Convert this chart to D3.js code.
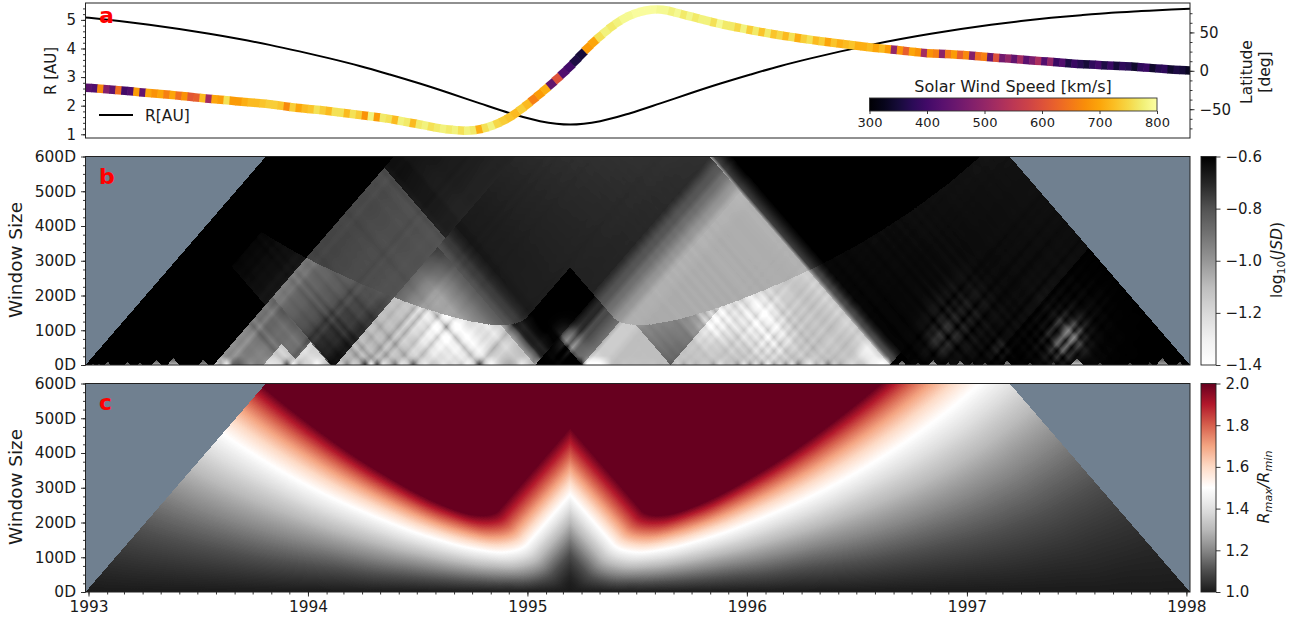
<!DOCTYPE html>
<html><head><meta charset="utf-8">
<script src="https://cdn.jsdelivr.net/npm/d3@7/dist/d3.min.js"></script>
<style>
html,body{margin:0;padding:0;background:#fff}
svg{display:block}
text{font-family:"DejaVu Sans",sans-serif;fill:#1a1a1a}
</style></head><body>
<svg id="chart" width="1293" height="622"></svg>
<script>
// ---------- data ----------
const yearTicks = [1993,1994,1995,1996,1997,1998];
const windowTicks = [0,100,200,300,400,500,600];
const rTicks = [1,2,3,4,5];
const latTicks = [-50,0,50];
const speedTicks = [300,400,500,600,700,800];
const jsdTicks = [-1.4,-1.2,-1.0,-0.8,-0.6];
const ratioTicks = [1.0,1.2,1.4,1.6,1.8,2.0];

// heliocentric distance, one value each 50 days, first value 44 days before the axis start
const rFirstDay = -44;
const rStepDays = 50;
const rValues = [5.165,5.071,4.958,4.826,4.679,4.515,4.332,4.126,3.898,3.654,3.39,3.09,2.773,2.434,2.08,1.737,1.457,1.34,1.457,1.737,2.08,2.434,2.773,3.09,3.39,3.654,3.898,4.126,4.332,4.515,4.679,4.826,4.958,5.071,5.165,5.248,5.307,5.361,5.40];

// latitude in degrees, one value each 50 days from the axis start
const latStepDays = 50;
const latValues = [-22,-25,-28.5,-32,-36,-39.5,-43,-48,-52,-57,-62,-69,-76,-77,-63,-34,1,41,70,80,72,62,54,47,41,36,31,27,23,21,18,15,12,9,7,5,2,0];

// solar wind speed in km/s, one value each 10 days from the axis start
const speedStepDays = 10;
const speedValues = [
430,420,670,480,440,640,400,420,690,440,700,680,700,660,700,640,680,610,620,720,
520,700,690,760,690,690,710,720,720,730,740,740,730,670,740,700,720,730,760,740,720,760,760,720,760,740,680,780,690,770,760,720,780,770,720,770,780,760,
770,780,770,780,760,780,770,710,760,780,750,740,730,720,740,720,660,690,710,
440,600,420,400,360,350,
690,700,760,780,770,
780,790,790,795,795,795,795,790,790,780,790,770,785,770,780,780,760,790,770,770,750,780,740,770,730,770,730,750,720,760,710,740,760,720,740,700,730,710,720,730,710,
710,720,700,720,
690,500,680,620,700,680,520,680,660,490,650,690,620,670,480,640,660,450,600,460,500,440,520,430,470,530,420,500,
390,420,360,390,370,350,380,400,360,390,350,380,370,340,380,390,340,370,380,340,360,350,330,360];

// log10(JSD) blocks in window-start / window-end days:
// start0,start1,end0,end1, value at the four corners, grain
const jsdBelowBlocks = [
 [1000,1500,1375,1837,-.62,-.6,-.67,-.63,.004],
 [101,213,385,620,-.605,-.66,-.62,-.66,.006],
 [213,416,409,781,-.92,-.62,-.85,-.95,.025],
 [213,409,213,409,-1.0,-1.0,-.85,-.85,.05],
 [296,357,296,357,-1.15,-1.15,-1.15,-1.15,.05],
 [341,407,341,407,-1.2,-1.2,-1.2,-1.2,.05],
 [416,748,416,748,-1.05,-1.08,-1.12,-1.12,.055],
 [416,748,748,770,-1.0,-1.0,-.7,-.7,.03],
 [416,748,770,815,-.7,-.7,-.61,-.61,.015],
 [748,826,826,1338,-.62,-.92,-.62,-.92,.025],
 [826,973,826,973,-1.1,-1.1,-1.1,-1.1,.055],
 [826,973,973,1338,-1.0,-.85,-1.05,-1.1,.05],
 [973,1338,973,1338,-1.12,-1.12,-1.12,-1.12,.055],
 [826,1338,1338,1348,-1.05,-1.05,-.8,-.8,.02],
 [826,1338,1348,1375,-.8,-.8,-.6,-.6,.015]
];
const jsdAboveBlocks = [
 [213,416,409,781,-.75,-.8,-.78,-.8,.008],
 [213,416,781,1040,-.64,-.69,-.66,-.7,.006],
 [416,740,815,1338,-.66,-.68,-.78,-.72,.003],
 [416,482,416,690,-.85,-1.03,-.85,-1.03,.012],
 [482,782,416,690,-1.03,-1.03,-1.03,-1.03,.012],
 [416,482,690,756,-.85,-1.03,-.74,-.82,.008],
 [482,782,690,756,-1.03,-1.03,-.82,-.82,.008],
 [416,782,756,815,-.8,-.82,-.67,-.68,.006],
 [740,782,815,1338,-.7,-.85,-.72,-.85,.01],
 [782,815,815,1338,-.85,-1.0,-.85,-1.0,.012],
 [815,840,815,1338,-1.0,-1.05,-1.0,-1.05,.012],
 [840,1338,840,1338,-1.05,-1.05,-1.06,-1.06,.012],
 [740,1338,1338,1345,-1.03,-1.03,-.76,-.76,.005],
 [740,1338,1345,1375,-.76,-.76,-.6,-.6,.005]
];
// bright patches: window start, window end, spread, change of log10(JSD)
const jsdPatches = [
 [555,640,50,-.2],[617,697,35,-.1],[771,835,22,-.1],
 [979,1109,30,-.22],[1042,1192,40,-.18],[1107,1180,30,-.1],[1288,1311,18,-.12],
 [1596,1669,28,-.18],[1580,1680,70,-.03],[1386,1523,50,-.035],[1385,1458,25,-.04],[1500,1543,15,-.04]
];
// short-window peaks: centre day, width in days, log10(JSD)
const jsdPeaks = [
 [12,5,-.85],[22,5,-.8],[37,10,-.95],[70,10,-.95],[91,8,-.9],[118,16,-1.05],[146,20,-1.1],[196,16,-1.0],
 [1358,13,-1.0],[1385,8,-.85],[1410,14,-1.1],[1435,8,-.9],[1455,13,-1.05],[1475,8,-.8],[1496,8,-.9],
 [1533,13,-1.0],[1571,8,-.85],[1610,8,-.8],[1649,20,-1.15],[1687,8,-.85],[1737,8,-.85],[1770,8,-.8],[1791,20,-1.05],[1820,10,-.9]
];

const jsdColorStops = [-1.4,-1.3,-1.2,-1.1,-1.0,-0.9,-0.8,-0.7,-0.6];
const jsdColors = ["#ffffff","#f0f0f0","#d9d9d9","#bdbdbd","#969696","#737373","#525252","#252525","#000000"];
const ratioColorStops = [1,1.1,1.2,1.3,1.4,1.5,1.6,1.7,1.8,1.9,2];
const ratioColors = ["#1a1a1a","#4d4d4d","#878787","#bababa","#e0e0e0","#ffffff","#fddbc7","#f4a582","#d6604d","#b2182b","#67001f"];

// ---------- layout ----------
const L = 85.5, Rt = 1190;
const panelA = {top:3, bottom:138}, panelB = {top:156.5, bottom:365}, panelC = {top:383.5, bottom:592};
const cbX0 = 1201, cbX1 = 1216;

const startDate = new Date(Date.UTC(1992,11,27)), endDate = new Date(Date.UTC(1998,0,7));
const totalDays = (endDate-startDate)/864e5;
const xTime = d3.scaleUtc().domain([startDate,endDate]).range([L,Rt]);
const xDay = d3.scaleLinear().domain([0,totalDays]).range([L,Rt]);
const yR = d3.scaleLinear().domain([0.87,5.59]).range([panelA.bottom,panelA.top]);
const yLat = d3.scaleLinear().domain([-87.5,88.3]).range([panelA.bottom,panelA.top]);
const yWinB = d3.scaleLinear().domain([0,600]).range([panelB.bottom,panelB.top]);
const yWinC = d3.scaleLinear().domain([0,600]).range([panelC.bottom,panelC.top]);

const speedColor = d3.scaleSequential(d3.interpolateInferno).domain([300,800]);
const jsdColor = d3.scaleLinear().domain(jsdColorStops).range(jsdColors).clamp(true);
const ratioColor = d3.scaleLinear().domain(ratioColorStops).range(ratioColors).clamp(true);

// smooth reading between equally spaced values
function smoothAt(values,first,step,d){
  const p=(d-first)/step, i=Math.max(0,Math.min(values.length-2,Math.floor(p))), t=p-i;
  const p0=values[Math.max(0,i-1)],p1=values[i],p2=values[i+1],p3=values[Math.min(values.length-1,i+2)];
  return .5*((2*p1)+(-p0+p2)*t+(2*p0-5*p1+4*p2-p3)*t*t+(-p0+3*p1-3*p2+p3)*t*t*t);
}
const rAt = d=>smoothAt(rValues,rFirstDay,rStepDays,d);
const latAt = d=>smoothAt(latValues,0,latStepDays,d);

// daily table of R, and the day of its minimum
const rDaily = d3.range(0,Math.ceil(totalDays)+2).map(rAt);
const rMinDay = d3.leastIndex(rDaily), rMinVal = rDaily[rMinDay];
function ratioOf(a,b){
  const ra=rDaily[Math.round(a)], rb=rDaily[Math.round(b)];
  const hi=Math.max(ra,rb), lo=(a<=rMinDay&&b>=rMinDay)?rMinVal:Math.min(ra,rb);
  return hi/lo;
}

// grain from the speed record itself: departure from the local mean
const speedGrain = speedValues.map((s,i)=>{
  const m=d3.mean(speedValues.slice(Math.max(0,i-3),i+4));
  return Math.max(-1,Math.min(1,(s-m)/50));
});
function grainAt(d){
  const p=d/speedStepDays-.5,i=Math.max(0,Math.min(speedGrain.length-2,Math.floor(p))),t=Math.max(0,Math.min(1,p-i));
  return speedGrain[i]*(1-t)+speedGrain[i+1]*t;
}
function blockValue(blocks,a,b){
  let v=-.6,g=0;
  for(const q of blocks){
    if(a>=q[0]&&a<q[1]&&b>=q[2]&&b<q[3]){
      const u=(a-q[0])/(q[1]-q[0]),w=(b-q[2])/(q[3]-q[2]);
      v=(q[4]*(1-u)+q[5]*u)*(1-w)+(q[6]*(1-u)+q[7]*u)*w; g=q[8];
    }
  }
  return [v,g];
}
function jsdAt(a,b){
  const above=ratioOf(a,b)>=1.5;
  const [v0,g]=blockValue(above?jsdAboveBlocks:jsdBelowBlocks,a,b);
  const ga=grainAt(a),gb=grainAt(b);
  let v=v0-g*(ga+gb);
  if(!above){
    for(const p of jsdPatches){
      const da=(a-p[0])/p[2],db=(b-p[1])/p[2];
      const e=da*da+db*db;
      if(e<9) v+=p[3]*Math.exp(-e/2)*(1+.7*(ga+gb));
    }
    if(b-a<26&&v<-.8) v-=.25*grainAt((a+b)/2)*(1-(b-a)/26);
    for(const p of jsdPeaks){
      if(a>=p[0]-p[1]/2&&b<=p[0]+p[1]/2) v=-.68+(p[2]+.68)*(1-.7*(b-a)/p[1]);
    }
  }
  return v;
}

function lut(scale,lo,hi){
  return d3.range(256).map(i=>{const c=d3.rgb(scale(lo+(hi-lo)*i/255));return [c.r,c.g,c.b];});
}
function raster(yScale,fn,table,lo,hi){
  const x0=Math.floor(L),x1=Math.ceil(Rt),y0=Math.floor(yScale.range()[1]),y1=Math.ceil(yScale.range()[0]);
  const w=x1-x0,h=y1-y0;
  const cv=document.createElement("canvas");cv.width=w;cv.height=h;
  const ctx=cv.getContext("2d"),img=ctx.createImageData(w,h),data=img.data;
  for(let j=0;j<h;j++){
    const win=yScale.invert(y0+j+.5);
    for(let i=0;i<w;i++){
      const d=xDay.invert(x0+i+.5),a=d-win/2,b=d+win/2;
      if(a<0||b>totalDays||win<0) continue;
      const v=fn(a,b),k=Math.max(0,Math.min(255,Math.round((v-lo)/(hi-lo)*255))),c=table[k],o=(j*w+i)*4;
      data[o]=c[0];data[o+1]=c[1];data[o+2]=c[2];data[o+3]=255;
    }
  }
  ctx.putImageData(img,0,0);
  return {href:cv.toDataURL(),x:x0,y:y0,w,h};
}

// ---------- drawing ----------
const svg=d3.select("#chart");
const defs=svg.append("defs");
function clip(id,p){
  defs.append("clipPath").attr("id",id).append("rect").attr("x",L).attr("y",p.top).attr("width",Rt-L).attr("height",p.bottom-p.top);
}
clip("clipA",panelA);clip("clipB",panelB);clip("clipC",panelC);

function tickStyle(g,size){
  g.selectAll(".domain").remove();
  g.selectAll("line").attr("stroke","#222").attr("stroke-width",.9);
  g.selectAll("text").attr("font-size",size).attr("fill","#1a1a1a");
}
function frame(p,stroke){
  svg.append("rect").attr("x",L).attr("y",p.top).attr("width",Rt-L).attr("height",p.bottom-p.top)
    .attr("fill","none").attr("stroke",stroke||"#222").attr("stroke-width",1);
}
function letter(t,yb){
  svg.append("text").attr("x",99).attr("y",yb).attr("font-size",22).attr("font-weight","bold").style("fill","#ff0000").text(t);
}
function rotated(x,y,t,size){
  return svg.append("text").attr("transform",`translate(${x},${y}) rotate(-90)`).attr("text-anchor","middle").attr("font-size",size).text(t);
}

// panel a
const gA=svg.append("g").attr("clip-path","url(#clipA)");
gA.append("path").datum(rValues).attr("fill","none").attr("stroke","#000").attr("stroke-width",2)
  .attr("d",d3.line().curve(d3.curveCatmullRom.alpha(0)).x((v,i)=>xDay(rFirstDay+i*rStepDays)).y(v=>yR(v)));
gA.append("g").selectAll("line").data(speedValues).join("line")
  .attr("x1",(v,i)=>xDay(i*speedStepDays)-.3)
  .attr("x2",(v,i)=>xDay((i+1)*speedStepDays)+.3)
  .attr("y1",(v,i)=>yLat(latAt(i*speedStepDays)))
  .attr("y2",(v,i)=>yLat(latAt((i+1)*speedStepDays)))
  .attr("stroke",v=>speedColor(v)).attr("stroke-width",8.5);
frame(panelA);
svg.append("g").attr("transform",`translate(${L},0)`)
  .call(d3.axisLeft(yR).tickValues(d3.range(1,5.6,.2)).tickSize(2.5).tickFormat("")).call(g=>tickStyle(g,15));
svg.append("g").attr("transform",`translate(${L},0)`)
  .call(d3.axisLeft(yR).tickValues(rTicks).tickSize(4.5).tickPadding(5).tickFormat(d3.format("d"))).call(g=>tickStyle(g,15));
svg.append("g").attr("transform",`translate(${Rt},0)`)
  .call(d3.axisRight(yLat).tickValues(d3.range(-75,76,12.5)).tickSize(2.5).tickFormat("")).call(g=>tickStyle(g,15));
svg.append("g").attr("transform",`translate(${Rt},0)`)
  .call(d3.axisRight(yLat).tickValues(latTicks).tickSize(4.5).tickPadding(5).tickFormat(d3.format("d"))).call(g=>tickStyle(g,15));
rotated(56,71,"R [AU]",15);
rotated(1252,72,"Latitude",15.5);
rotated(1270,72,"[deg]",15.5);
svg.append("line").attr("x1",99).attr("x2",133).attr("y1",115).attr("y2",115).attr("stroke","#000").attr("stroke-width",2);
svg.append("text").attr("x",145).attr("y",121).attr("font-size",15.5).text("R[AU]");
letter("a",23);

// speed colorbar
const cbSpeed=d3.scaleLinear().domain([300,800]).range([869.5,1157]);
const gradS=defs.append("linearGradient").attr("id","gS");
gradS.selectAll("stop").data(d3.range(0,1.001,.05)).join("stop")
  .attr("offset",d=>d).attr("stop-color",d=>speedColor(300+500*d));
svg.append("rect").attr("x",869.5).attr("y",98).attr("width",1157-869.5).attr("height",13)
  .attr("fill","url(#gS)").attr("stroke","#333").attr("stroke-width",.9);
svg.append("g").attr("transform","translate(0,111)")
  .call(d3.axisBottom(cbSpeed).tickValues(speedTicks).tickSize(3).tickPadding(4).tickFormat(d3.format("d"))).call(g=>tickStyle(g,13));
svg.append("text").attr("x",1013).attr("y",92).attr("text-anchor","middle").attr("font-size",16).text("Solar Wind Speed [km/s]");

// panel b and c backgrounds with rasters
function heat(p,clipId,yScale,fn,table,lo,hi){
  svg.append("rect").attr("x",L).attr("y",p.top).attr("width",Rt-L).attr("height",p.bottom-p.top).attr("fill","#708090");
  const r=raster(yScale,fn,table,lo,hi);
  svg.append("image").attr("clip-path",`url(#${clipId})`).attr("href",r.href).attr("x",r.x).attr("y",r.y).attr("width",r.w).attr("height",r.h);
  frame(p);
  svg.append("g").attr("transform",`translate(${L},0)`)
    .call(d3.axisLeft(yScale).tickValues(d3.range(0,601,25)).tickSize(2.5).tickFormat("")).call(g=>tickStyle(g,15));
  svg.append("g").attr("transform",`translate(${L},0)`)
    .call(d3.axisLeft(yScale).tickValues(windowTicks).tickSize(4.5).tickPadding(5).tickFormat(d=>d+"D")).call(g=>tickStyle(g,15.4));
}
heat(panelB,"clipB",yWinB,jsdAt,lut(jsdColor,-1.4,-.6),-1.4,-.6);
heat(panelC,"clipC",yWinC,ratioOf,lut(ratioColor,1,2),1,2);
rotated(22,260,"Window Size",18.4);
rotated(22,487,"Window Size",18.4);
letter("b",184);
letter("c",410);

// x axis on panel c
const months=d3.utcMonth.range(startDate,endDate);
svg.append("g").attr("transform",`translate(0,${panelC.bottom})`)
  .call(d3.axisBottom(xTime).tickValues(months).tickSize(2.5).tickFormat("")).call(g=>tickStyle(g,15));
svg.append("g").attr("transform",`translate(0,${panelC.bottom})`)
  .call(d3.axisBottom(xTime).tickValues(yearTicks.map(y=>new Date(Date.UTC(y,0,1)))).tickSize(4.5).tickPadding(5).tickFormat(d3.utcFormat("%Y")))
  .call(g=>tickStyle(g,15.4));

// vertical colorbars
function vBar(id,p,scale,lo,hi,ticks,fmt){
  const g=defs.append("linearGradient").attr("id",id).attr("x1",0).attr("x2",0).attr("y1",1).attr("y2",0);
  g.selectAll("stop").data(d3.range(0,1.001,.025)).join("stop")
    .attr("offset",d=>d).attr("stop-color",d=>scale(lo+(hi-lo)*d));
  svg.append("rect").attr("x",cbX0).attr("y",p.top).attr("width",cbX1-cbX0).attr("height",p.bottom-p.top)
    .attr("fill",`url(#${id})`).attr("stroke","#222").attr("stroke-width",.9);
  const y=d3.scaleLinear().domain([lo,hi]).range([p.bottom,p.top]);
  svg.append("g").attr("transform",`translate(${cbX1},0)`)
    .call(d3.axisRight(y).tickValues(ticks).tickSize(4.5).tickPadding(5).tickFormat(fmt)).call(s=>tickStyle(s,15));
}
vBar("gJ",panelB,jsdColor,-1.4,-.6,jsdTicks,d3.format(".1f"));
vBar("gR",panelC,ratioColor,1,2,ratioTicks,d3.format(".1f"));

const tJ=rotated(1282,260,"",15.5);
tJ.append("tspan").text("log");
tJ.append("tspan").attr("dy",3).attr("font-size",11).text("10");
tJ.append("tspan").attr("dy",-3).text("(");
tJ.append("tspan").attr("font-style","italic").text("JSD");
tJ.append("tspan").text(")");
const tR=rotated(1269,487,"",16);
tR.append("tspan").attr("font-style","italic").text("R");
tR.append("tspan").attr("dy",3).attr("font-size",11.2).attr("font-style","italic").text("max");
tR.append("tspan").attr("dy",-3).attr("font-style","italic").text("/R");
tR.append("tspan").attr("dy",3).attr("font-size",11.2).attr("font-style","italic").text("min");
</script>
</body></html>
